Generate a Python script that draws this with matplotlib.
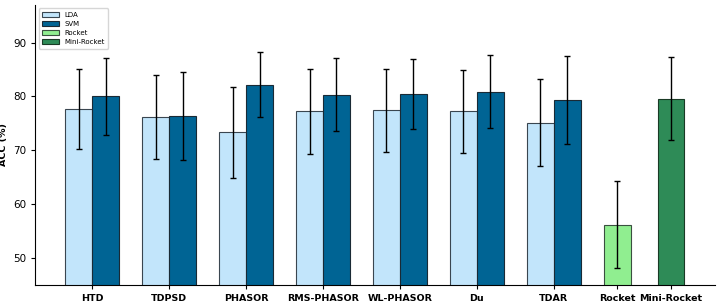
import matplotlib
matplotlib.use("Agg")
import matplotlib.pyplot as plt
import numpy as np

features = ["HTD", "TDPSD", "PHASOR", "RMS-PHASOR", "WL-PHASOR", "Du", "TDAR"]
lda_mean = [77.7, 76.2, 73.3, 77.2, 77.4, 77.2, 75.1]
lda_std = [7.45, 7.75, 8.5, 7.95, 7.75, 7.65, 8.05]
svm_mean = [80.0, 76.4, 82.2, 80.3, 80.4, 80.9, 79.3]
svm_std = [7.2, 8.15, 6.1, 6.75, 6.45, 6.85, 8.2]
rocket_mean, rocket_std = 56.2, 8.05
mini_mean, mini_std = 79.6, 7.7
tick_labels = features + ["Rocket", "Mini-Rocket"]

c_lda = "#c2e5fb"
c_svm = "#006494"
c_rocket = "#90ee90"
c_mini = "#2e8b57"

fig = plt.figure(figsize=(7.21, 3.03), dpi=100)
ax = fig.add_axes([0.049, 0.06, 0.943, 0.924])

w = 0.35
x = np.arange(len(features))
ekw = dict(elinewidth=1.0, capthick=1.0, ecolor="black")
cs = 2.3
ax.bar(x - w/2, lda_mean, w, yerr=lda_std, capsize=cs, color=c_lda,
       edgecolor="#3a4650", linewidth=0.8, label="LDA", error_kw=ekw)
ax.bar(x + w/2, svm_mean, w, yerr=svm_std, capsize=cs, color=c_svm,
       edgecolor="#1a2a35", linewidth=0.8, label="SVM", error_kw=ekw)
xr = len(features) - w/2
xm = len(features) + 1.5 * w
ax.bar([xr], [rocket_mean], w, yerr=[rocket_std], capsize=cs, color=c_rocket,
       edgecolor="#3a5040", linewidth=0.8, label="Rocket", error_kw=ekw)
ax.bar([xm], [mini_mean], w, yerr=[mini_std], capsize=cs, color=c_mini,
       edgecolor="#1a3a25", linewidth=0.8, label="Mini-Rocket", error_kw=ekw)

ax.set_xticks(list(x) + [xr, xm])
ax.set_xticklabels(tick_labels, fontsize=6.8, fontweight="bold")
ax.tick_params(axis="y", labelsize=7.5, length=3)
ax.tick_params(axis="x", length=3)
ax.set_yticks([50, 60, 70, 80, 90])
ax.set_ylim(45, 97)
ax.set_xlim(-0.74, 8.1)
ax.set_ylabel("ACC (%)", fontsize=6.8, fontweight="bold", labelpad=4)
ax.spines["top"].set_visible(False)
ax.spines["right"].set_visible(False)
ax.legend(loc="upper left", fontsize=5, frameon=True, handlelength=2.4,
          borderpad=0.5, labelspacing=0.45)

fig.savefig("out.png", dpi=100)
